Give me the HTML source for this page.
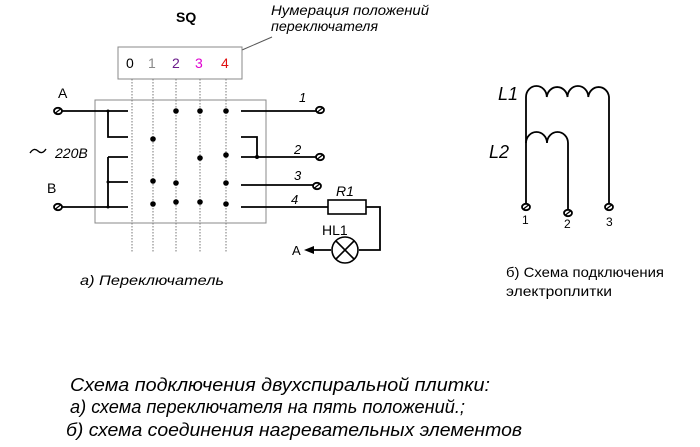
<!DOCTYPE html>
<html><head><meta charset="utf-8"><style>
body{margin:0;background:#fff;width:700px;height:447px;overflow:hidden}
svg{display:block}
text{font-family:"Liberation Sans",sans-serif}
</style></head><body>
<svg width="700" height="447" viewBox="0 0 700 447">
<defs>
<g id="t"><ellipse cx="0" cy="0" rx="4" ry="3.2" fill="#fff" stroke="#000" stroke-width="1.8"/><line x1="-2.5" y1="2" x2="2.5" y2="-2" stroke="#000" stroke-width="1.3"/></g>
</defs>
<text x="176" y="22" font-size="14" font-weight="bold">SQ</text>
<text x="271" y="15" font-size="14" font-style="italic" textLength="158" lengthAdjust="spacingAndGlyphs">Нумерация положений</text>
<text x="271" y="31" font-size="14" font-style="italic" textLength="107" lengthAdjust="spacingAndGlyphs">переключателя</text>
<line x1="242" y1="50" x2="272" y2="37" stroke="#555" stroke-width="1"/>
<rect x="118" y="47" width="124" height="32" fill="none" stroke="#888" stroke-width="1"/>
<g font-size="14"><text x="126" y="68">0</text><text x="148" y="68" fill="#888">1</text><text x="172" y="68" fill="#6a1b8a">2</text><text x="195" y="68" fill="#e000d0">3</text><text x="221" y="68" fill="#e01010">4</text></g>
<rect x="95" y="100" width="171" height="123" fill="none" stroke="#888" stroke-width="1"/>
<g stroke="#777" stroke-width="1" stroke-dasharray="1.5,1.5">
<line x1="132" y1="79" x2="132" y2="253"/><line x1="153" y1="79" x2="153" y2="253"/><line x1="176" y1="79" x2="176" y2="253"/><line x1="200" y1="79" x2="200" y2="253"/><line x1="226" y1="79" x2="226" y2="253"/></g>
<g stroke="#000" stroke-width="1.8" fill="none">
<path d="M58 111H128M108 111V137H128M58 207H128M108 157V207M108 157H128M108 182H128"/>
<path d="M241 111H318M241 137H257V157M241 157H318M241 185H318M241 207H328M366 207H380V250H359M331 250H310"/>
<rect x="328" y="200" width="38" height="14" stroke-width="1.6"/>
<circle cx="345" cy="250" r="13" stroke-width="1.6"/>
<path d="M336 241L354 259M354 241L336 259" stroke-width="1.6"/>
<path d="M30 153Q34 147 38 151Q42 155 46 149" stroke-width="1.4"/>
</g>
<path d="M304 250L314 246V254Z"/>
<g fill="#000"><circle cx="176" cy="111" r="2.8"/><circle cx="200" cy="111" r="2.8"/><circle cx="226" cy="111" r="2.8"/><circle cx="153" cy="139" r="2.8"/><circle cx="200" cy="158" r="2.8"/><circle cx="226" cy="155" r="2.8"/><circle cx="257" cy="157" r="2"/><circle cx="153" cy="181" r="2.8"/><circle cx="176" cy="183" r="2.8"/><circle cx="226" cy="183" r="2.8"/><circle cx="153" cy="204" r="2.8"/><circle cx="176" cy="202" r="2.8"/><circle cx="200" cy="202" r="2.8"/><circle cx="226" cy="204" r="2.8"/><circle cx="108" cy="111" r="1.5"/><circle cx="108" cy="182" r="1.5"/><circle cx="108" cy="207" r="1.5"/></g>
<use href="#t" x="58" y="111"/><use href="#t" x="58" y="207"/><use href="#t" x="320" y="110"/><use href="#t" x="320" y="157"/><use href="#t" x="317" y="186"/>
<text x="58" y="98" font-size="14">A</text><text x="47" y="193" font-size="14">B</text>
<text x="55" y="158" font-size="14" font-style="italic">220В</text>
<g font-size="13" font-style="italic"><text x="299" y="102">1</text><text x="294" y="154">2</text><text x="294" y="180">3</text><text x="291" y="204">4</text><text x="336" y="196" font-size="14">R1</text></g>
<text x="322" y="235" font-size="14">HL1</text><text x="292" y="255" font-size="13">A</text>
<text x="80" y="285" font-size="14" font-style="italic" textLength="144" lengthAdjust="spacingAndGlyphs">а) Переключатель</text>
<g stroke="#000" stroke-width="1.8" fill="none">
<path d="M526 205V97A10.4 11 0 0 1 546.8 97A10.4 11 0 0 1 567.5 97A10.4 11 0 0 1 588.3 97A10.4 11 0 0 1 609 97V207"/>
<path d="M526 143A10.5 11 0 0 1 547 143A10.5 11 0 0 1 568 143V212"/>
</g>
<use href="#t" x="526" y="207"/><use href="#t" x="568" y="213"/><use href="#t" x="609" y="207"/>
<g font-size="12"><text x="522" y="224">1</text><text x="564" y="228">2</text><text x="606" y="226">3</text></g>
<text x="498" y="100" font-size="18" font-style="italic">L1</text>
<text x="489" y="158" font-size="18" font-style="italic">L2</text>
<text x="506" y="277" font-size="14" textLength="158" lengthAdjust="spacingAndGlyphs">б) Схема подключения</text>
<text x="506" y="296" font-size="14" textLength="106" lengthAdjust="spacingAndGlyphs">электроплитки</text>
<g font-size="18" font-style="italic"><text x="70" y="391" textLength="420" lengthAdjust="spacingAndGlyphs">Схема подключения двухспиральной плитки:</text><text x="70" y="413" textLength="395" lengthAdjust="spacingAndGlyphs">а) схема переключателя на пять положений.;</text><text x="66" y="436" textLength="456" lengthAdjust="spacingAndGlyphs">б) схема соединения нагревательных элементов</text></g>
</svg>
</body></html>
